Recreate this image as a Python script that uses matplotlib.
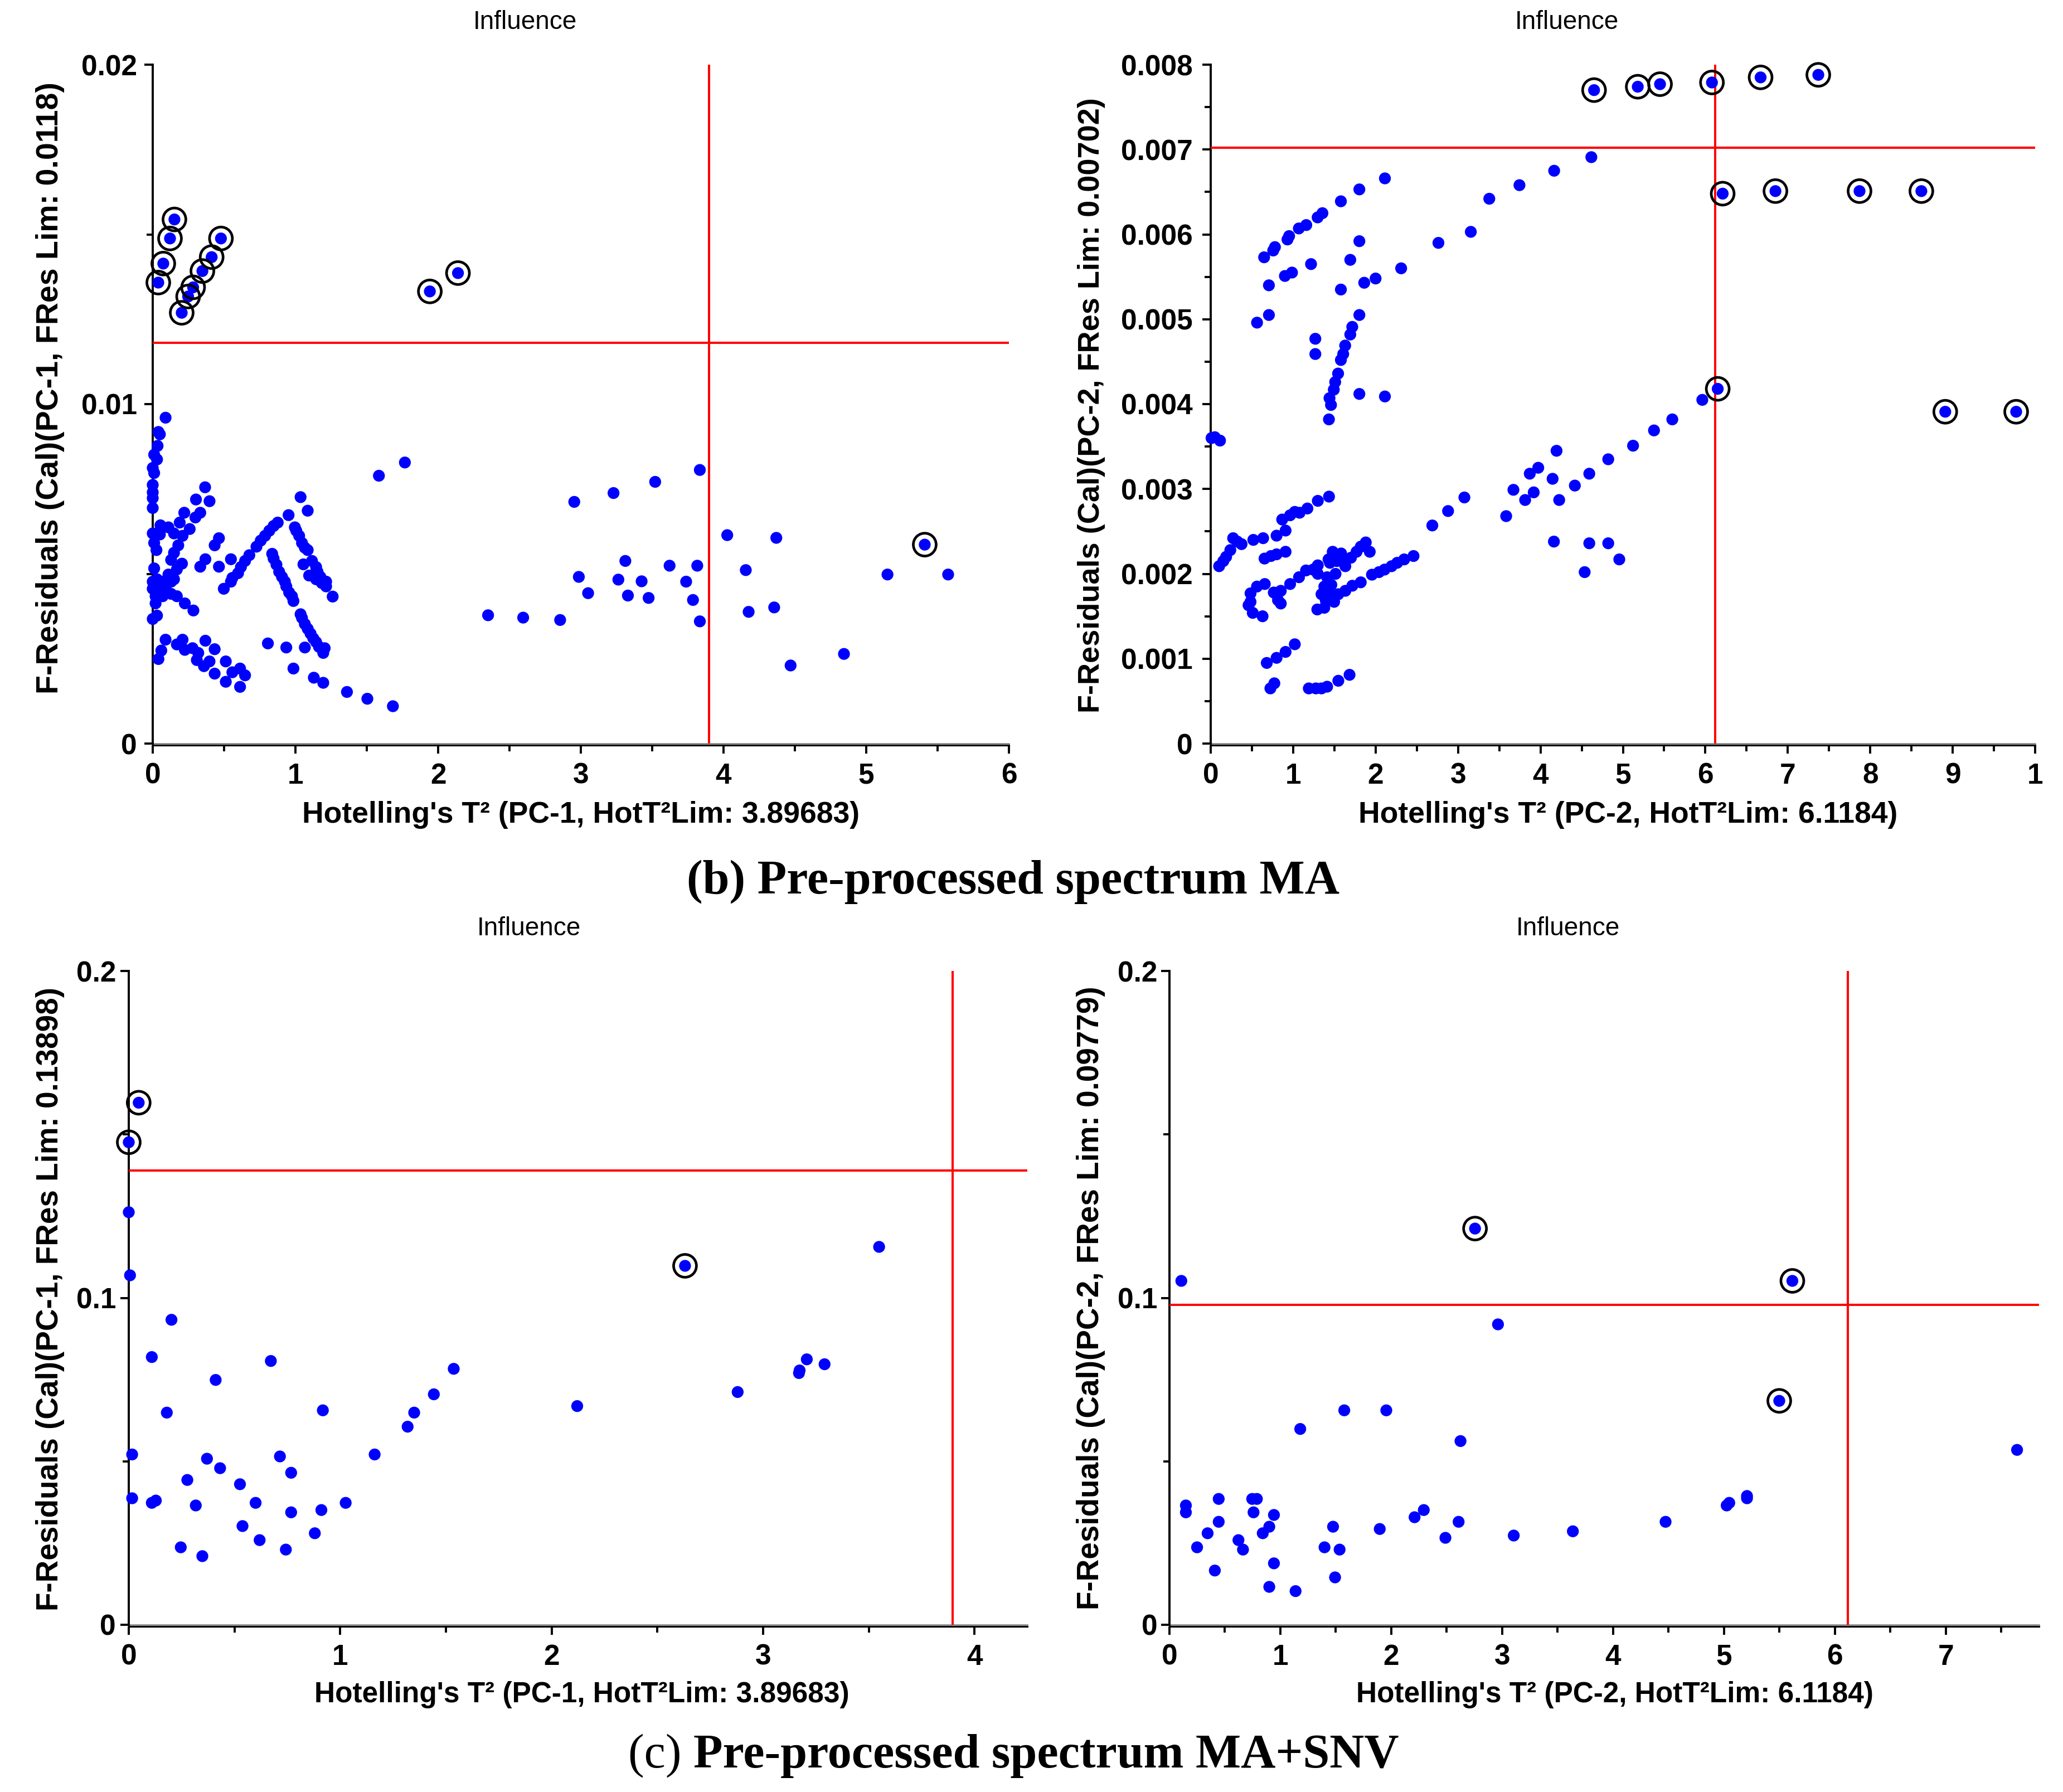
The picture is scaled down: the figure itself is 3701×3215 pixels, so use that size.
import matplotlib
matplotlib.use("Agg")
import matplotlib.pyplot as plt
from matplotlib.ticker import MultipleLocator

plt.rcParams['font.family'] = ['Liberation Sans', 'DejaVu Sans']

# ---------------- data: (b) MA, PC-1 ----------------
tl_x = [0.090, 0.050, 0.040, 0.034, 0.010, 0.030, 0.000, 0.010, 0.000, 0.000, 0.000, 0.000,
        0.367, 0.303, 0.398, 0.221, 0.333, 0.299, 0.189, 0.054, 0.110, 0.259, 0.000, 0.149,
        0.050, 0.209, 0.010, 0.179, 0.026, 0.149, 0.129, 0.464, 0.434, 0.369, 0.333, 0.464,
        0.548, 0.205, 0.169, 0.010, 0.000, 0.030, 0.070, 0.110, 0.149, 0.000, 0.050, 0.090,
        0.129, 0.020, 0.070, 0.020, 0.129, 0.169, 0.225, 0.285, 0.000, 0.030, 0.498, 0.548,
        0.558, 0.598, 0.618, 0.647, 0.677, 0.727, 0.757, 0.787, 0.817, 0.847, 0.876, 0.952,
        1.036, 1.086, 0.996, 1.006, 1.026, 1.046, 1.066, 1.086, 1.056, 1.116, 1.145, 1.096,
        1.155, 1.175, 1.215, 1.215, 1.145, 1.185, 1.261, 0.837, 0.847, 0.867, 0.886, 0.906,
        0.926, 0.936, 0.956, 0.976, 0.986, 1.036, 1.046, 1.066, 1.086, 1.106, 1.125, 1.145,
        1.165, 1.195, 1.205, 0.807, 0.936, 1.066, 0.986, 1.129, 1.195, 1.361, 1.504, 1.683,
        0.040, 0.060, 0.090, 0.169, 0.209, 0.225, 0.279, 0.319, 0.309, 0.359, 0.369, 0.398,
        0.434, 0.434, 0.512, 0.512, 0.558, 0.612, 0.647, 0.612, 1.585, 1.767, 2.350, 2.596,
        2.855, 2.954, 2.986, 3.229, 3.521, 3.834, 4.026, 4.370, 3.312, 3.622, 3.816, 3.263,
        3.426, 3.738, 4.156, 5.149, 5.574, 3.051, 3.330, 3.475, 3.786, 3.834, 4.176, 4.355,
        4.470, 4.844]
tl_y = [0.00960, 0.00911, 0.00918, 0.00877, 0.00851, 0.00837, 0.00812, 0.00797, 0.00762, 0.00740, 0.00723, 0.00694,
        0.00755, 0.00719, 0.00714, 0.00680, 0.00680, 0.00666, 0.00651, 0.00643, 0.00637, 0.00632, 0.00619, 0.00619,
        0.00616, 0.00612, 0.00591, 0.00584, 0.00570, 0.00562, 0.00541, 0.00605, 0.00584, 0.00543, 0.00521, 0.00521,
        0.00543, 0.00530, 0.00513, 0.00516, 0.00477, 0.00484, 0.00477, 0.00498, 0.00484, 0.00456, 0.00456, 0.00463,
        0.00477, 0.00434, 0.00434, 0.00413, 0.00441, 0.00434, 0.00413, 0.00392, 0.00367, 0.00377, 0.00456, 0.00477,
        0.00488, 0.00502, 0.00520, 0.00538, 0.00555, 0.00580, 0.00598, 0.00612, 0.00627, 0.00641, 0.00651, 0.00673,
        0.00726, 0.00686, 0.00637, 0.00627, 0.00612, 0.00591, 0.00577, 0.00570, 0.00528, 0.00538, 0.00520, 0.00495,
        0.00506, 0.00491, 0.00477, 0.00463, 0.00484, 0.00473, 0.00433, 0.00559, 0.00545, 0.00527, 0.00506, 0.00491,
        0.00477, 0.00463, 0.00445, 0.00434, 0.00420, 0.00381, 0.00370, 0.00352, 0.00338, 0.00324, 0.00310, 0.00299,
        0.00285, 0.00267, 0.00281, 0.00295, 0.00283, 0.00283, 0.00221, 0.00194, 0.00179, 0.00152, 0.00132, 0.00110,
        0.00249, 0.00274, 0.00306, 0.00292, 0.00306, 0.00276, 0.00281, 0.00267, 0.00246, 0.00228, 0.00303, 0.00242,
        0.00278, 0.00206, 0.00242, 0.00182, 0.00210, 0.00221, 0.00201, 0.00167, 0.00789, 0.00828, 0.00378, 0.00371,
        0.00364, 0.00712, 0.00491, 0.00738, 0.00771, 0.00806, 0.00614, 0.00606, 0.00538, 0.00524, 0.00524, 0.00483,
        0.00478, 0.00477, 0.00511, 0.00498, 0.00498, 0.00443, 0.00436, 0.00429, 0.00423, 0.00360, 0.00388, 0.00401,
        0.00230, 0.00264]
tl_out_x = [0.039, 0.074, 0.121, 0.152, 0.203, 0.248, 0.283, 0.348, 0.413, 0.478, 1.942, 2.139, 5.41]
tl_out_y = [0.01358, 0.01414, 0.01488, 0.01544, 0.01269, 0.01317, 0.01344, 0.01392, 0.01433, 0.01488,
            0.01332, 0.01386, 0.00586]

# ---------------- data: (b) MA, PC-2 ----------------
tr_x = [2.113, 1.803, 1.579, 1.355, 1.297, 1.159, 1.069, 0.951, 0.931, 0.779, 0.758, 0.648,
        1.803, 1.693, 1.217, 0.986, 0.900, 0.706, 2.310, 2.000, 1.862, 1.579,
        2.762, 3.155, 3.379, 3.745, 4.166, 4.617,
        1.803, 1.717, 1.693, 1.631, 1.607, 1.579, 1.545, 1.510, 1.493, 1.441, 1.459, 1.434,
        1.269, 1.269, 1.803, 2.113, 0.706, 0.562, 0.010, 0.113, 0.050,
        5.963, 5.599, 5.377, 5.123, 4.822, 4.592, 4.417, 4.195, 4.147, 3.973, 3.870, 3.672,
        3.918, 3.814, 4.227, 3.584, 3.077, 2.879, 2.688, 4.163, 4.592, 4.822, 4.956, 4.536,
        0.102, 0.153, 0.187, 0.238, 0.272, 0.323, 0.374, 0.517, 0.636, 0.799, 0.908, 0.867,
        0.963, 1.020, 1.078, 1.173, 1.299, 1.435, 0.653, 0.731, 0.799, 0.908,
        0.483, 0.483, 0.561, 0.656, 0.459, 0.510, 0.629, 0.765, 0.850, 0.816, 0.850, 0.963,
        1.071, 1.156, 1.241, 1.299, 1.299,
        1.293, 1.378, 1.344, 1.378, 1.412, 1.429, 1.480, 1.582, 1.633, 1.514, 1.463, 1.429,
        1.497, 1.548, 1.633, 1.718, 1.820, 1.701, 1.769, 1.820, 1.881, 1.929, 1.395, 1.446,
        1.531, 1.616,
        1.956, 2.041, 2.109, 2.194, 2.262, 2.347, 2.460,
        0.680, 0.799, 0.908, 1.020, 0.724, 0.772, 1.190, 1.276, 1.344, 1.412, 1.548, 1.684]
tr_y = [0.00666, 0.00653, 0.00639, 0.00625, 0.00620, 0.00611, 0.00607, 0.00598, 0.00594, 0.00585, 0.00581, 0.00573,
        0.00592, 0.00570, 0.00565, 0.00555, 0.00551, 0.00540, 0.00560, 0.00548, 0.00543, 0.00535,
        0.00590, 0.00603, 0.00642, 0.00658, 0.00675, 0.00691,
        0.00505, 0.00491, 0.00482, 0.00469, 0.00459, 0.00452, 0.00436, 0.00426, 0.00417, 0.00407, 0.00399, 0.00382,
        0.00477, 0.00459, 0.00412, 0.00409, 0.00505, 0.00496, 0.00360, 0.00357, 0.00361,
        0.00405, 0.00382, 0.00369, 0.00351, 0.00335, 0.00318, 0.00304, 0.00345, 0.00312, 0.00325, 0.00318, 0.00299,
        0.00296, 0.00287, 0.00287, 0.00268, 0.00290, 0.00274, 0.00257, 0.00238, 0.00236, 0.00236, 0.00217, 0.00202,
        0.00209, 0.00215, 0.00220, 0.00228, 0.00242, 0.00238, 0.00235, 0.00240, 0.00242, 0.00245, 0.00251, 0.00264,
        0.00269, 0.00273, 0.00272, 0.00277, 0.00286, 0.00291, 0.00218, 0.00221, 0.00223, 0.00226,
        0.00177, 0.00167, 0.00185, 0.00188, 0.00163, 0.00154, 0.00150, 0.00178, 0.00180, 0.00169, 0.00165, 0.00188,
        0.00196, 0.00204, 0.00205, 0.00210, 0.00200,
        0.00158, 0.00160, 0.00176, 0.00185, 0.00196, 0.00217, 0.00226, 0.00224, 0.00209, 0.00200, 0.00187, 0.00178,
        0.00167, 0.00176, 0.00180, 0.00186, 0.00190, 0.00219, 0.00226, 0.00232, 0.00237, 0.00226, 0.00169, 0.00213,
        0.00215, 0.00215,
        0.00199, 0.00202, 0.00205, 0.00209, 0.00213, 0.00217, 0.00221,
        0.00095, 0.00101, 0.00108, 0.00117, 0.00065, 0.00071, 0.00065, 0.00065, 0.00065, 0.00067, 0.00074, 0.00081]
tr_out_x = [4.65, 5.18, 5.45, 6.08, 6.67, 7.37, 6.21, 6.85, 7.87, 8.62, 6.15, 8.91, 9.77]
tr_out_y = [0.00770, 0.00774, 0.00777, 0.00779, 0.00785, 0.00788, 0.00648, 0.00651, 0.00651, 0.00651,
            0.00418, 0.00391, 0.00391]

# ---------------- data: (c) MA+SNV, PC-1 ----------------
bl_x = [0.000, 0.006, 0.202, 0.109, 0.672, 0.411, 0.180, 0.918, 0.016, 0.370, 0.715, 0.432,
        0.768, 0.277, 0.526, 0.016, 0.109, 0.128, 0.317, 0.600, 1.026, 0.911, 0.768, 0.538,
        0.880, 0.619, 0.246, 0.743, 0.348, 1.163, 1.319, 1.350, 1.443, 1.537, 2.121, 2.880,
        3.173, 3.207, 3.291, 3.549, 3.170]
bl_y = [0.1262, 0.1069, 0.0933, 0.0819, 0.0807, 0.0749, 0.0649, 0.0656, 0.0521, 0.0508, 0.0515, 0.0479,
        0.0465, 0.0443, 0.0430, 0.0387, 0.0373, 0.0380, 0.0365, 0.0373, 0.0373, 0.0351, 0.0344, 0.0302,
        0.0280, 0.0259, 0.0237, 0.0230, 0.0210, 0.0521, 0.0606, 0.0649, 0.0705, 0.0783, 0.0669, 0.0712,
        0.0778, 0.0812, 0.0797, 0.1156, 0.0770]
bl_out_x = [0.047, 0.000, 2.631]
bl_out_y = [0.1597, 0.1476, 0.1098]

# ---------------- data: (c) MA+SNV, PC-2 ----------------
br_x = [0.107, 2.962, 7.642, 1.576, 1.955, 1.179, 2.624, 0.148, 0.148, 0.444, 0.444, 0.344,
        0.249, 0.409, 0.622, 0.663, 0.746, 0.788, 0.758, 0.841, 0.900, 0.942, 0.900, 0.942,
        1.137, 1.398, 1.475, 1.534, 1.493, 1.896, 2.210, 2.293, 2.488, 2.607, 3.104, 3.637,
        4.473, 5.024, 5.047, 5.207, 5.207]
br_y = [0.1052, 0.0919, 0.0535, 0.0656, 0.0656, 0.0599, 0.0562, 0.0365, 0.0344, 0.0385, 0.0315, 0.0280,
        0.0237, 0.0166, 0.0259, 0.0230, 0.0385, 0.0385, 0.0344, 0.0280, 0.0300, 0.0336, 0.0116, 0.0188,
        0.0103, 0.0237, 0.0300, 0.0230, 0.0145, 0.0293, 0.0329, 0.0351, 0.0266, 0.0315, 0.0273, 0.0286,
        0.0315, 0.0365, 0.0373, 0.0387, 0.0394]
br_out_x = [2.755, 5.616, 5.498]
br_out_y = [0.1212, 0.1052, 0.0685]

# limits
hot_lim_pc1 = 3.89683
hot_lim_pc2 = 6.1184
fres_lims = [0.0118, 0.00702, 0.13898, 0.09779]

xlabels = ["Hotelling's T² (PC-1, HotT²Lim: 3.89683)",
           "Hotelling's T² (PC-2, HotT²Lim: 6.1184)",
           "Hotelling's T² (PC-1, HotT²Lim: 3.89683)",
           "Hotelling's T² (PC-2, HotT²Lim: 6.1184)"]
ylabels = ["F-Residuals (Cal)(PC-1, FRes Lim: 0.0118)",
           "F-Residuals (Cal)(PC-2, FRes Lim: 0.00702)",
           "F-Residuals (Cal)(PC-1, FRes Lim: 0.13898)",
           "F-Residuals (Cal)(PC-2, FRes Lim: 0.09779)"]

tl_xticks = [0, 1, 2, 3, 4, 5, 6]
tl_xticklabels = ['0', '1', '2', '3', '4', '5', '6']
tl_yticks = [0, 0.01, 0.02]
tl_yticklabels = ['0', '0.01', '0.02']
tr_xticks = [0, 1, 2, 3, 4, 5, 6, 7, 8, 9, 10]
tr_xticklabels = ['0', '1', '2', '3', '4', '5', '6', '7', '8', '9', '1']
tr_yticks = [0, 0.001, 0.002, 0.003, 0.004, 0.005, 0.006, 0.007, 0.008]
tr_yticklabels = ['0', '0.001', '0.002', '0.003', '0.004', '0.005', '0.006', '0.007', '0.008']
bl_xticks = [0, 1, 2, 3, 4]
bl_xticklabels = ['0', '1', '2', '3', '4']
br_xticks = [0, 1, 2, 3, 4, 5, 6, 7]
br_xticklabels = ['0', '1', '2', '3', '4', '5', '6', '7']
c_yticks = [0, 0.1, 0.2]
c_yticklabels = ['0', '0.1', '0.2']

# ---------------- figure ----------------
W, H = 3701, 3215
fig = plt.figure(figsize=(W / 100, H / 100), dpi=100)


def px_axes(l, r, t, b):
    return [l / W, 1 - b / H, (r - l) / W, (b - t) / H]


BLUE = '#0000FF'
RED = '#FF0000'


def panel(rect, x, y, ox, oy, xlim, ylim, xt, xtl, yt, ytl, xminor, yminor,
          hx, hy, xlab, ylab, xlab_pos, ylab_pos, ypad, xlabsize, ylabsize):
    ax = fig.add_axes(rect)
    ax.set_xlim(*xlim)
    ax.set_ylim(*ylim)
    for s in ['top', 'right']:
        ax.spines[s].set_visible(False)
    ax.spines['left'].set_linewidth(2.8)
    ax.spines['bottom'].set_linewidth(2.2)
    ax.spines['bottom'].set_position(('outward', 1.8))
    ax.axhline(0, color='#808080', lw=1.8, zorder=2, clip_on=False)
    ax.set_xticks(xt)
    ax.set_xticklabels(xtl)
    ax.set_yticks(yt)
    ax.set_yticklabels(ytl)
    ax.xaxis.set_minor_locator(MultipleLocator(xminor))
    ax.yaxis.set_minor_locator(MultipleLocator(yminor))
    ax.tick_params(axis='both', which='major', direction='out', length=10.5, width=2.8,
                   labelsize=37, color='black')
    ax.tick_params(axis='both', which='minor', direction='out', length=8, width=2.8, color='black')
    ax.tick_params(axis='x', which='major', pad=12)
    ax.tick_params(axis='y', which='major', pad=ypad)
    for lab in ax.get_xticklabels() + ax.get_yticklabels():
        lab.set_fontweight('bold')
    ax.axvline(hx, color=RED, lw=2.9, zorder=3)
    ax.axhline(hy, color=RED, lw=2.9, zorder=3)
    ax.scatter(x, y, s=235, c=BLUE, edgecolors='none', zorder=4, clip_on=False)
    ax.scatter(ox, oy, s=235, c=BLUE, edgecolors='none', zorder=4, clip_on=False)
    ax.scatter(ox, oy, s=870, facecolors='none', edgecolors='black', linewidths=3.4,
               zorder=5, clip_on=False)
    ax.set_xlabel(xlab, fontsize=xlabsize, fontweight='bold')
    ax.set_ylabel(ylab, fontsize=ylabsize, fontweight='bold')
    ax.xaxis.set_label_coords(*xlab_pos)
    ax.yaxis.set_label_coords(*ylab_pos)
    ax.xaxis.label.set_va('center')
    ax.yaxis.label.set_va('center')
    ax.patch.set_alpha(0)
    return ax


panel(px_axes(274, 1810, 116, 1334), tl_x, tl_y, tl_out_x, tl_out_y, (0, 6), (0, 0.02),
      tl_xticks, tl_xticklabels, tl_yticks, tl_yticklabels, 0.5, 0.005,
      hot_lim_pc1, fres_lims[0], xlabels[0], ylabels[0], (0.5, -0.105), (-0.1196, 0.5235), 10, 38.5, 40)
panel(px_axes(2172, 3651, 116, 1334), tr_x, tr_y, tr_out_x, tr_out_y, (0, 10), (0, 0.008),
      tr_xticks, tr_xticklabels, tr_yticks, tr_yticklabels, 0.5, 0.0005,
      hot_lim_pc2, fres_lims[1], xlabels[1], ylabels[1], (0.506, -0.105), (-0.145, 0.498), 13, 38.5, 39)
panel(px_axes(231, 1843, 1742, 2915), bl_x, bl_y, bl_out_x, bl_out_y, (0, 4.25), (0, 0.2),
      bl_xticks, bl_xticklabels, c_yticks, c_yticklabels, 0.5, 0.05,
      hot_lim_pc1, fres_lims[2], xlabels[2], ylabels[2], (0.504, -0.1066), (-0.0877, 0.4987), 6, 37, 39.5)
panel(px_axes(2098, 3658, 1742, 2915), br_x, br_y, br_out_x, br_out_y, (0, 7.84), (0, 0.2),
      br_xticks, br_xticklabels, c_yticks, c_yticklabels, 0.5, 0.05,
      hot_lim_pc2, fres_lims[3], xlabels[3], ylabels[3], (0.512, -0.1066), (-0.0906, 0.5), 5, 37, 39.5)

# "Influence" titles
for (tx, ty) in [(942, 40), (2811, 40), (949, 1666), (2813, 1666)]:
    fig.text(tx / W, 1 - ty / H, 'Influence', fontsize=33, ha='center', va='center')

# captions
serif = ['Liberation Serif', 'DejaVu Serif']
fig.text(1817 / W, 1 - 1582 / H, '(b) Pre-processed spectrum MA', fontsize=62,
         family=serif, fontweight='bold', ha='center', va='center')

renderer = fig.canvas.get_renderer()
t1 = fig.text(0, 1 - 3150 / H, '(c) ', fontsize=62, family=serif, ha='left', va='center')
t2 = fig.text(0, 1 - 3150 / H, 'Pre-processed spectrum MA+SNV', fontsize=62, family=serif,
              fontweight='bold', ha='left', va='center')
w1 = t1.get_window_extent(renderer).width
w2 = t2.get_window_extent(renderer).width
x0 = 1818 - (w1 + w2) / 2
t1.set_x(x0 / W)
t2.set_x((x0 + w1) / W)

fig.savefig('out.png', dpi=100, facecolor='white')
